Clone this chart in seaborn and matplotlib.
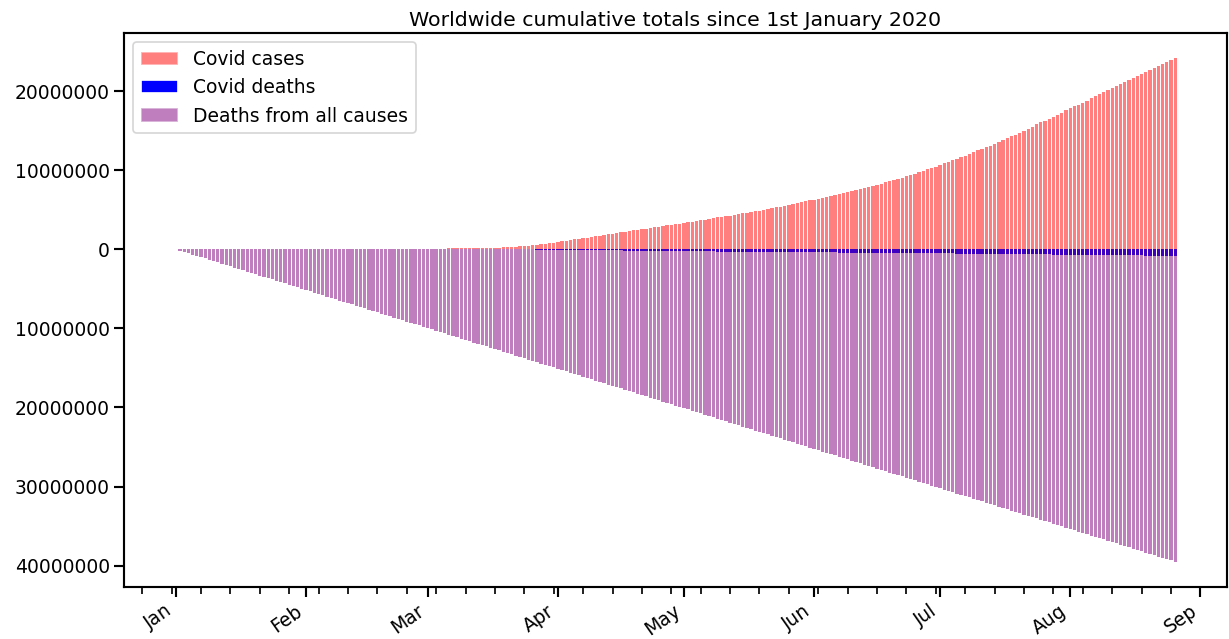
import numpy as np
import pandas as pd
import matplotlib
matplotlib.use("Agg")
import matplotlib.pyplot as plt
import matplotlib.dates as mdates
from matplotlib.patches import Patch
from matplotlib.ticker import FuncFormatter, MultipleLocator
import seaborn as sns

# ---------------- data (values in thousands, daily from 2020-01-01) ----------------
start_date = "2020-01-01"

# Cumulative Covid cases (thousands), by month
cases_jan = [0] * 21 + [0.6, 0.7, 0.9, 1.4, 2.1, 2.9, 5.6, 6.2, 8.2, 9.9]
cases_feb = [12.0, 16.8, 19.9, 23.9, 27.6, 30.8, 34.4, 37.1, 40.2, 42.8,
             44.8, 45.2, 60.4, 66.9, 69.0, 71.2, 73.3, 75.1, 75.6, 76.2,
             76.8, 78.6, 79.0, 79.6, 80.4, 81.4, 82.7, 84.1, 86.0]
cases_mar = [88.4, 90.3, 92.8, 95.1, 97.9, 101.8, 105.8, 109.8, 113.6, 118.6,
             125.9, 128.3, 145.2, 156.1, 167.4, 181.5, 197.1, 214.9, 242.7, 272.2,
             304.5, 336.9, 378.2, 418.0, 467.7, 529.6, 593.3, 660.7, 720.1, 782.4,
             857.5]
cases_apr = [932.6, 1013.2, 1095.9, 1176.1, 1249.8, 1321.5, 1396.5, 1480.2, 1565.3, 1657.5,
             1735.6, 1834.7, 1904.8, 1976.2, 2056.1, 2152.6, 2240.2, 2317.8, 2401.4, 2472.3,
             2549.1, 2624.6, 2708.9, 2795.7, 2881.1, 2955.0, 3023.7, 3097.2, 3172.3, 3256.8]
cases_may = [3343, 3427, 3506, 3583, 3662, 3755, 3845, 3938, 4024, 4102,
             4177, 4261, 4347, 4443, 4542, 4634, 4715, 4804, 4900, 5003,
             5108, 5213, 5314, 5407, 5496, 5590, 5696, 5816, 5939, 6066,
             6183]
cases_jun = [6284, 6404, 6523, 6651, 6780, 6914, 7025, 7128, 7249, 7383,
             7521, 7652, 7786, 7915, 8026, 8169, 8313, 8454, 8631, 8792,
             8925, 9060, 9226, 9391, 9571, 9761, 9950, 10114, 10277, 10453]
cases_jul = [10665, 10875, 11083, 11272, 11451, 11621, 11829, 12047, 12263, 12494,
             12717, 12918, 13108, 13328, 13560, 13812, 14053, 14290, 14503, 14711,
             14947, 15228, 15511, 15796, 16050, 16260, 16475, 16725, 17004, 17291,
             17580]
cases_aug = [17840, 18058, 18273, 18530, 18805, 19091, 19381, 19643, 19870, 20086,
             20344, 20625, 20910, 21208, 21455, 21672, 21881, 22136, 22415, 22685,
             22960, 23220, 23429, 23635, 23880, 24170]

# Cumulative Covid deaths (thousands), by month
deaths_jan = [0] * 21 + [0.017, 0.018, 0.026, 0.042, 0.056, 0.082, 0.131, 0.133, 0.171, 0.213]
deaths_feb = [0.259, 0.362, 0.426, 0.492, 0.564, 0.634, 0.719, 0.806, 0.906, 1.013,
              1.113, 1.118, 1.371, 1.523, 1.666, 1.770, 1.868, 2.007, 2.122, 2.247,
              2.251, 2.458, 2.469, 2.629, 2.708, 2.770, 2.814, 2.872, 2.941]
deaths_mar = [2.996, 3.085, 3.160, 3.254, 3.348, 3.460, 3.558, 3.802, 3.988, 4.262,
              4.615, 4.720, 5.404, 5.819, 6.440, 7.126, 7.905, 8.733, 9.867, 11.299,
              12.973, 14.623, 16.497, 18.615, 21.181, 23.970, 27.198, 30.652, 33.925, 37.582,
              42.107]
deaths_apr = [46.8, 53.2, 58.8, 64.6, 69.4, 74.6, 82.1, 88.3, 95.5, 102.5,
              108.3, 114.1, 119.5, 125.9, 134.2, 142.0, 153.8, 159.5, 165.0, 170.2,
              177.6, 184.6, 191.1, 197.2, 203.3, 207.1, 211.3, 217.9, 228.1, 234.1]
deaths_may = [239.6, 244.8, 248.6, 252.7, 258.7, 264.7, 270.5, 275.6, 280.3, 284.0,
              287.8, 293.3, 298.6, 303.8, 309.0, 313.1, 316.5, 320.0, 324.5, 329.4,
              334.3, 339.2, 343.9, 346.8, 348.9, 353.6, 358.7, 363.3, 368.1, 372.1,
              375.0]
deaths_jun = [378.7, 383.7, 389.0, 394.3, 399.1, 403.2, 406.0, 409.3, 413.9, 418.9,
              424.1, 428.6, 432.7, 435.8, 439.1, 446.1, 451.5, 456.5, 461.3, 465.5,
              469.7, 473.0, 478.2, 483.3, 490.4, 495.0, 499.4, 502.3, 505.5, 510.6]
deaths_jul = [515.7, 520.5, 525.6, 529.8, 533.4, 537.0, 542.8, 548.4, 553.7, 559.1,
              564.3, 569.1, 572.9, 578.4, 584.0, 589.5, 596.7, 601.9, 606.1, 610.6,
              617.6, 624.8, 634.6, 640.9, 646.6, 651.0, 655.0, 661.2, 667.7, 674.0,
              679.9]
deaths_aug = [685.2, 689.7, 694.1, 700.4, 707.3, 713.9, 720.0, 725.7, 730.4, 735.3,
              741.3, 748.0, 754.0, 759.5, 764.8, 769.3, 773.0, 779.4, 786.1, 792.1,
              797.5, 803.0, 807.3, 811.7, 818.1, 824.3]

# Cumulative deaths from all causes (thousands), rows of 10 days
all_deaths = [
    0, 166, 332, 498, 664, 830, 996, 1162, 1328, 1494,
    1660, 1826, 1992, 2158, 2324, 2490, 2656, 2822, 2988, 3154,
    3320, 3486, 3652, 3818, 3984, 4150, 4316, 4482, 4648, 4814,
    4980, 5146, 5312, 5478, 5644, 5810, 5976, 6142, 6308, 6474,
    6640, 6806, 6972, 7138, 7304, 7470, 7636, 7802, 7968, 8134,
    8300, 8466, 8632, 8798, 8964, 9130, 9296, 9462, 9628, 9794,
    9960, 10126, 10292, 10458, 10624, 10790, 10956, 11122, 11288, 11454,
    11620, 11786, 11952, 12118, 12284, 12450, 12616, 12782, 12948, 13114,
    13280, 13446, 13612, 13778, 13944, 14110, 14276, 14442, 14608, 14774,
    14940, 15106, 15272, 15438, 15604, 15770, 15936, 16102, 16268, 16434,
    16600, 16766, 16932, 17098, 17264, 17430, 17596, 17762, 17928, 18094,
    18260, 18426, 18592, 18758, 18924, 19090, 19256, 19422, 19588, 19754,
    19920, 20086, 20252, 20418, 20584, 20750, 20916, 21082, 21248, 21414,
    21580, 21746, 21912, 22078, 22244, 22410, 22576, 22742, 22908, 23074,
    23240, 23406, 23572, 23738, 23904, 24070, 24236, 24402, 24568, 24734,
    24900, 25066, 25232, 25398, 25564, 25730, 25896, 26062, 26228, 26394,
    26560, 26726, 26892, 27058, 27224, 27390, 27556, 27722, 27888, 28054,
    28220, 28386, 28552, 28718, 28884, 29050, 29216, 29382, 29548, 29714,
    29880, 30046, 30212, 30378, 30544, 30710, 30876, 31042, 31208, 31374,
    31540, 31706, 31872, 32038, 32204, 32370, 32536, 32702, 32868, 33034,
    33200, 33366, 33532, 33698, 33864, 34030, 34196, 34362, 34528, 34694,
    34860, 35026, 35192, 35358, 35524, 35690, 35856, 36022, 36188, 36354,
    36520, 36686, 36852, 37018, 37184, 37350, 37516, 37682, 37848, 38014,
    38180, 38346, 38512, 38678, 38844, 39010, 39176, 39342, 39508,
]

labels = ["Covid cases", "Covid deaths", "Deaths from all causes"]
colors = ["red", "blue", "purple"]
alphas = [0.5, 1.0, 0.5]
title = "Worldwide cumulative totals since 1st January 2020"

# ---------------- assemble ----------------
cases = cases_jan + cases_feb + cases_mar + cases_apr + cases_may + cases_jun + cases_jul + cases_aug
cdeaths = deaths_jan + deaths_feb + deaths_mar + deaths_apr + deaths_may + deaths_jun + deaths_jul + deaths_aug
n = len(cases)
dates = pd.date_range(start_date, periods=n, freq="D")
xnum = mdates.date2num(dates.to_pydatetime())

df = pd.DataFrame({
    "x": xnum,
    "cases": np.array(cases) * 1000,
    "cdeaths": -np.array(cdeaths) * 1000,
    "alldeaths": -np.array(all_deaths[:n]) * 1000,
})

# ---------------- plot ----------------
sns.set_theme(context="talk", style="ticks")
plt.rcParams["font.family"] = ["DejaVu Sans"]
plt.rcParams.update({
    "text.color": "black",
    "axes.labelcolor": "black",
    "axes.edgecolor": "black",
    "xtick.color": "black",
    "ytick.color": "black",
})

DPI = 1229 / 15.0
fig = plt.figure(figsize=(15.0, 7.8), dpi=DPI)
ax = fig.add_axes([124 / 1229, 1 - 587 / 639, (1227 - 124) / 1229, (587 - 33) / 639])

for col, lab, c, a in zip(["cases", "cdeaths", "alldeaths"], labels, colors, alphas):
    sns.barplot(data=df, x="x", y=col, native_scale=True, color=c, alpha=a,
                saturation=1, linewidth=0, errorbar=None, ax=ax)

ax.set_xlabel("")
ax.set_ylabel("")
ax.set_title(title, color="black")
ax.margins(x=0.05, y=0.05)
ax.autoscale_view()

ax.xaxis.set_major_locator(mdates.MonthLocator())
ax.xaxis.set_major_formatter(mdates.DateFormatter("%b"))
ax.xaxis.set_minor_locator(mdates.WeekdayLocator())
for lbl in ax.get_xticklabels():
    lbl.set_rotation(35)
    lbl.set_ha("right")

ax.yaxis.set_major_locator(MultipleLocator(10000000))
ax.yaxis.set_major_formatter(FuncFormatter(lambda v, p: f"{abs(int(round(v)))}"))

for s in ["top", "right", "left", "bottom"]:
    ax.spines[s].set_visible(True)

handles = [Patch(facecolor=c, alpha=a) for c, a in zip(colors, alphas)]
ax.legend(handles, labels, loc="upper left")

fig.savefig("out.png", dpi=DPI)
